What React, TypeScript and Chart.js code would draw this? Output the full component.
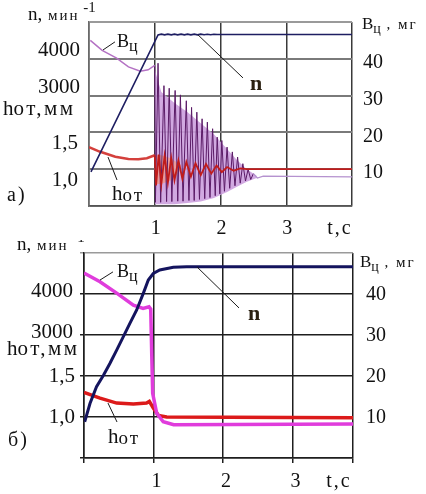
import React, { useEffect, useRef } from 'react';
import { Chart, registerables } from 'chart.js';

Chart.register(...registerables);

// ---------------- Panel a) data ----------------
const aNT = [0.03, 1.05, 1.1, 1.15, 1.2, 1.25, 1.3, 1.35, 1.4, 1.45, 1.5, 1.55, 1.6, 1.65, 1.7, 1.75, 1.8, 1.85, 1.9, 1.95, 2.0, 4.0];
const aNV = [930, 4650, 4670, 4650, 4670, 4650, 4670, 4650, 4670, 4650, 4670, 4650, 4670, 4650, 4670, 4655, 4665, 4655, 4665, 4660, 4660, 4660];

const aBPreT = [0.02, 0.2, 0.42, 0.6, 0.78, 0.9, 1.0];
const aBPreV = [45.0, 42.3, 40.2, 37.8, 36.6, 37.0, 38.2];

const aBOscT = [1.0, 1.01, 1.05, 1.09, 1.14, 1.18, 1.22, 1.26, 1.31, 1.35, 1.39, 1.43, 1.48, 1.52, 1.56, 1.6, 1.64, 1.68, 1.72, 1.76, 1.8, 1.84, 1.88, 1.92, 1.95, 1.99, 2.02, 2.06, 2.1, 2.14, 2.18, 2.22, 2.26, 2.3, 2.34, 2.38, 2.42, 2.46, 2.5];
const aBOscV = [38.2, 1.0, 38.8, 1.0, 32.7, 1.2, 32.0, 1.2, 31.4, 1.3, 30.2, 1.3, 28.6, 1.5, 26.8, 1.5, 25.5, 1.8, 23.7, 2.0, 22.8, 2.3, 21.0, 2.8, 18.7, 3.3, 17.8, 4.0, 16.0, 4.8, 14.7, 5.5, 13.3, 6.2, 11.5, 6.8, 10.0, 7.2, 8.8];

const aBTailT = [2.5, 2.56, 2.65, 4.0];
const aBTailV = [8.8, 7.6, 8.1, 7.9];

const aEnvT = [1.0, 1.1, 1.3, 1.5, 1.7, 1.9, 2.1, 2.25, 2.4, 2.55];
const aEnvTop = [37, 31, 28, 25.5, 22.5, 19.5, 15.5, 12.5, 10, 8.2];
const aEnvBot = [0.5, 0.5, 0.5, 0.8, 1.2, 2.2, 3.8, 5.2, 6.6, 7.6];

const aHPreT = [0, 0.16, 0.4, 0.6, 0.75, 0.88, 1.0];
const aHPreV = [1.3, 1.24, 1.17, 1.14, 1.135, 1.15, 1.19];

const aHOscT = [1.0, 1.02, 1.06, 1.1, 1.15, 1.2, 1.25, 1.3, 1.36, 1.42, 1.48, 1.55, 1.62, 1.7, 1.78, 1.86, 1.94, 2.02, 2.1, 2.2, 2.3, 2.4, 4.0];
const aHOscV = [1.19, 0.78, 1.2, 0.8, 1.18, 0.82, 1.15, 0.85, 1.12, 0.87, 1.1, 0.9, 1.08, 0.92, 1.07, 0.94, 1.05, 0.96, 1.03, 0.98, 1.01, 1.0, 1.0];

const aHEnvT = [1.0, 1.1, 1.25, 1.4];
const aHEnvTop = [1.2, 1.19, 1.15, 1.05];
const aHEnvBot = [0.8, 0.8, 0.85, 0.98];

// ---------------- Panel b) data ----------------
const bNT = [0.01, 0.086, 0.18, 0.28, 0.374, 0.47, 0.566, 0.66, 0.758, 0.853, 0.925, 0.997, 1.09, 1.285, 1.477, 3.87];
const bNV = [885, 1330, 1740, 2020, 2310, 2630, 2960, 3285, 3610, 4015, 4340, 4500, 4585, 4650, 4667, 4667];

const bBT = [0, 0.23, 0.47, 0.71, 0.85, 0.935, 0.96, 0.975, 0.988, 1.046, 1.14, 1.29, 3.87];
const bBV = [45.1, 43.0, 40.2, 37.3, 36.5, 36.9, 36.3, 25, 15.8, 10.9, 8.85, 8.1, 8.3];

const bHT = [0, 0.23, 0.47, 0.71, 0.9, 0.94, 0.997, 1.07, 1.19, 3.87];
const bHV = [1.3, 1.23, 1.17, 1.16, 1.17, 1.19, 1.11, 1.02, 1.0, 0.99];

// ---------------- Axis labels ----------------
const xTickValues = [1, 2, 3];
const xTickLabels = ['1', '2', '3'];
const nTickValues = [4000, 3000];
const nTickLabels = ['4000', '3000'];
const hTickValues = [1.5, 1.0];
const hTickLabels = ['1,5', '1,0'];
const bTickValues = [40, 30, 20, 10];
const bTickLabels = ['40', '30', '20', '10'];

const FAMILY = '"Liberation Serif", "Times New Roman", serif';

const pts = (t: number[], v: number[]) => t.map((x, i) => ({ x, y: v[i] }));

type Part = { t: string; size: number; dy?: number; sp?: number; bold?: boolean; color?: string };

function rich(ctx: any, x: number, y: number, parts: Part[]) {
  let cx = x;
  for (const p of parts) {
    ctx.font = `${p.bold ? 'bold ' : ''}${p.size}px ${FAMILY}`;
    ctx.letterSpacing = `${p.sp || 0}px`;
    ctx.textAlign = 'left';
    ctx.textBaseline = 'alphabetic';
    ctx.fillStyle = p.color || '#111';
    ctx.fillText(p.t, cx, y + (p.dy || 0));
    cx += ctx.measureText(p.t).width;
  }
  ctx.letterSpacing = '0px';
}

function textAt(ctx: any, s: string, x: number, y: number, size: number, align: string, sp = 0) {
  ctx.font = `${size}px ${FAMILY}`;
  ctx.letterSpacing = `${sp}px`;
  ctx.textAlign = align;
  ctx.textBaseline = 'middle';
  ctx.fillStyle = '#111';
  ctx.fillText(s, x, y);
  ctx.letterSpacing = '0px';
}

interface Layout {
  nX: number; nDy: number; hX: number; hDy: number; bX: number; bDy: number;
  xDx: number; xY: number; tcX: number;
  unitNX: number; unitNY: number; unitHX: number; unitHY: number;
  panelX: number; panelY: number; panelText: string;
  unitBX: number; unitBY: number;
  bLab: [number, number]; bLine: [number, number, number, number];
  hLab: [number, number]; hLine: [number, number, number, number];
  nLab: [number, number]; nLine: [number, number, number, number];
}

function labelsPlugin(L: Layout) {
  return {
    id: 'panelLabels',
    afterDraw(chart: any) {
      const { ctx, chartArea: a, scales } = chart;
      const sx = scales.x, sB = scales.yB, sN = scales.yN, sH = scales.yH;
      ctx.save();
      nTickValues.forEach((v, i) => textAt(ctx, nTickLabels[i], a.left + L.nX, sN.getPixelForValue(v) + L.nDy, 21, 'right'));
      hTickValues.forEach((v, i) => textAt(ctx, hTickLabels[i], a.left + L.hX, sH.getPixelForValue(v) + L.hDy, 21, 'right'));
      bTickValues.forEach((v, i) => textAt(ctx, bTickLabels[i], a.right + L.bX, sB.getPixelForValue(v) + L.bDy, 20, 'left'));
      xTickValues.forEach((v, i) => textAt(ctx, xTickLabels[i], sx.getPixelForValue(v) + L.xDx, a.bottom + L.xY, 20, 'center'));
      textAt(ctx, 't,c', a.right + L.tcX, a.bottom + L.xY, 20, 'center', 2);

      rich(ctx, a.left + L.unitNX, a.top + L.unitNY, [
        { t: 'n,', size: 19 },
        { t: ' мин', size: 15, sp: 2 },
        { t: ' -1', size: 15, dy: -8 },
      ]);
      rich(ctx, a.left + L.unitHX, a.top + L.unitHY, [
        { t: 'h', size: 21 },
        { t: 'от,мм', size: 21, sp: 2.5 },
      ]);
      rich(ctx, a.left + L.panelX, a.bottom + L.panelY, [{ t: L.panelText, size: 20, sp: 2 }]);
      rich(ctx, a.right + L.unitBX, a.top + L.unitBY, [
        { t: 'B', size: 17 },
        { t: 'ц', size: 14, dy: 4 },
        { t: ' , мг', size: 15, sp: 2 },
      ]);

      // pointer lines from labels to curves
      ctx.strokeStyle = '#1a1a1a';
      ctx.lineWidth = 1;
      const line = (q: [number, number, number, number]) => {
        ctx.beginPath();
        ctx.moveTo(sx.getPixelForValue(q[0]), sB.getPixelForValue(q[1]));
        ctx.lineTo(sx.getPixelForValue(q[2]), sB.getPixelForValue(q[3]));
        ctx.stroke();
      };
      line(L.bLine);
      line(L.hLine);
      line(L.nLine);

      rich(ctx, sx.getPixelForValue(L.bLab[0]), sB.getPixelForValue(L.bLab[1]), [
        { t: 'B', size: 18 },
        { t: 'ц', size: 16, dy: 4 },
      ]);
      rich(ctx, sx.getPixelForValue(L.hLab[0]), sB.getPixelForValue(L.hLab[1]), [
        { t: 'h', size: 21 },
        { t: 'от', size: 19, sp: 2, dy: 1 },
      ]);
      rich(ctx, sx.getPixelForValue(L.nLab[0]), sB.getPixelForValue(L.nLab[1]), [
        { t: 'n', size: 22, bold: true, color: '#2a2010' },
      ]);
      ctx.restore();
    },
  };
}

function lineDs(data: any[], color: string, width: number, yAxisID: string, order: number, extra: any = {}) {
  return {
    data,
    borderColor: color,
    borderWidth: width,
    backgroundColor: color,
    pointRadius: 0,
    tension: 0,
    fill: false,
    yAxisID,
    order,
    ...extra,
  };
}

function scalesFor(xMax: number, panelB: boolean) {
  return {
    x: {
      type: 'linear',
      min: 0,
      max: xMax,
      ticks: { display: false, stepSize: 1 },
      grid: {
        color: panelB ? '#1e1e1e' : '#3a3a3a',
        lineWidth: 1.5,
        drawTicks: panelB,
        tickLength: 5,
      },
      border: { color: panelB ? '#1e1e1e' : '#555', width: 1.5 },
    },
    yB: {
      type: 'linear',
      position: 'left',
      min: 0,
      max: 50,
      ticks: { display: false, stepSize: 10 },
      grid: {
        color: (c: any) => (c.tick && c.tick.value === 50 ? '#9a9a9a' : panelB ? '#1e1e1e' : '#7a7a7a'),
        lineWidth: panelB ? 1.5 : 2,
        drawTicks: panelB,
        tickLength: 4,
      },
      border: { color: panelB ? '#1e1e1e' : '#6a6a6a', width: 1.5 },
    },
    yN: { type: 'linear', display: false, min: 0, max: 5000 },
    yH: { type: 'linear', display: false, min: 0.5, max: 3.0 },
  };
}

const layoutA: Layout = {
  nX: -9, nDy: -8.5, hX: -11, hDy: 11, bX: 11, bDy: 4, xDx: 1, xY: 23, tcX: -12,
  unitNX: -61, unitNY: -2, unitHX: -86, unitHY: 93,
  panelX: -82, panelY: -5, panelText: 'а)',
  unitBX: 10, unitBY: 7,
  bLab: [0.426, 43.2], bLine: [0.213, 42.4, 0.395, 44.6],
  hLab: [0.35, 1.63], hLine: [0.289, 13.3, 0.426, 7.07],
  nLab: [2.449, 31.5], nLine: [1.658, 46.5, 2.342, 34.8],
};

const layoutB: Layout = {
  nX: -11, nDy: -3, hX: -9, hDy: 0, bX: 13, bDy: 1, xDx: 3, xY: 24, tcX: -14,
  unitNX: -67, unitNY: -3, unitHX: -77, unitHY: 102,
  panelX: -76, panelY: -12, panelText: 'б)',
  unitBX: 7, unitBY: 14,
  bLab: [0.475, 44.1], bLine: [0.23, 43.4, 0.417, 45.4],
  hLab: [0.345, 3.66], hLine: [0.345, 13.4, 0.475, 8.78],
  nLab: [2.36, 33.7], nLine: [1.626, 46.6, 2.23, 36.6],
};

function configA(): any {
  return {
    type: 'line',
    data: {
      datasets: [
        lineDs(pts(aEnvT, aEnvTop), 'rgba(0,0,0,0)', 1, 'yB', 9, { fill: '+1', backgroundColor: 'rgba(204,160,222,0.9)' }),
        lineDs(pts(aEnvT, aEnvBot), 'rgba(0,0,0,0)', 1, 'yB', 9),
        lineDs(pts(aHEnvT, aHEnvTop), 'rgba(0,0,0,0)', 1, 'yH', 8, { fill: '+1', backgroundColor: 'rgba(242,150,130,0.75)' }),
        lineDs(pts(aHEnvT, aHEnvBot), 'rgba(0,0,0,0)', 1, 'yH', 8),
        lineDs(pts(aBOscT, aBOscV), '#5a1a66', 1, 'yB', 6),
        lineDs(pts(aBPreT, aBPreV), '#b472c4', 1.5, 'yB', 5),
        lineDs(pts(aBTailT, aBTailV), '#b592cf', 1.3, 'yB', 5),
        lineDs(pts(aHOscT, aHOscV), '#c01c1c', 1.8, 'yH', 4),
        lineDs(pts(aHPreT, aHPreV), '#d4403c', 2.5, 'yH', 4),
        lineDs(pts(aNT, aNV), '#1e1e62', 1.6, 'yN', 1),
      ],
    },
    options: {
      animation: false,
      responsive: false,
      events: [],
      layout: { padding: { left: 89, right: 74, top: 22, bottom: 34 } },
      plugins: { legend: { display: false }, tooltip: { enabled: false }, title: { display: false } },
      scales: scalesFor(4, false),
    },
    plugins: [labelsPlugin(layoutA)],
  };
}

function configB(): any {
  return {
    type: 'line',
    data: {
      datasets: [
        lineDs(pts(bNT, bNV), '#14145e', 3, 'yN', 1),
        lineDs(pts(bBT, bBV), '#e03cdc', 3.5, 'yB', 2),
        lineDs(pts(bHT, bHV), '#dc1a1a', 3.5, 'yH', 3),
      ],
    },
    options: {
      animation: false,
      responsive: false,
      events: [],
      layout: { padding: { left: 80, right: 73, top: 13, bottom: 31 } },
      plugins: { legend: { display: false }, tooltip: { enabled: false }, title: { display: false } },
      scales: scalesFor(3.87, true),
    },
    plugins: [labelsPlugin(layoutB)],
  };
}

export default function App() {
  const topRef = useRef<HTMLCanvasElement>(null);
  const botRef = useRef<HTMLCanvasElement>(null);
  useEffect(() => {
    const c1 = new Chart(topRef.current as HTMLCanvasElement, configA());
    const c2 = new Chart(botRef.current as HTMLCanvasElement, configB());
    return () => {
      c1.destroy();
      c2.destroy();
    };
  }, []);
  return (
    <div style={{ position: 'absolute', left: 0, top: 0, width: 426, height: 494, background: '#fff' }}>
      <canvas ref={topRef} width={426} height={240} style={{ position: 'absolute', left: 0, top: 0 }} />
      <canvas ref={botRef} width={426} height={254} style={{ position: 'absolute', left: 0, top: 240 }} />
    </div>
  );
}
